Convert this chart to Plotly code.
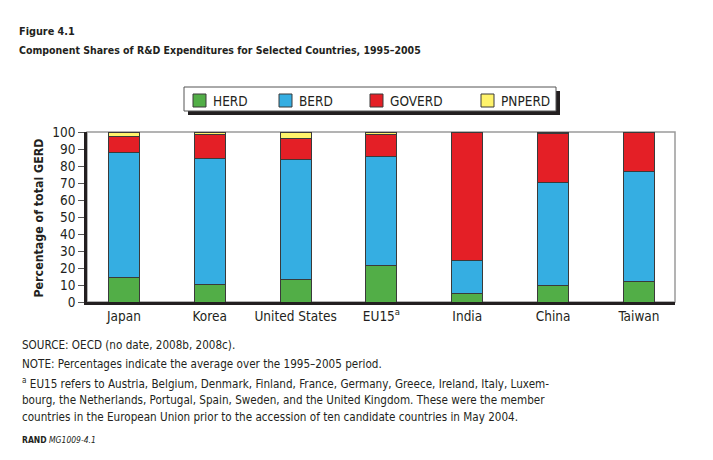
import plotly.graph_objects as go

countries = ["Japan", "Korea", "United States", "EU15<sup>a</sup>", "India", "China", "Taiwan"]
series_names = ["HERD", "BERD", "GOVERD", "PNPERD"]
herd = [14.5, 10.4, 13.1, 21.5, 5.1, 9.8, 12.1]
berd = [73.2, 74.1, 71.0, 63.8, 19.2, 60.5, 64.4]
goverd = [9.6, 14.1, 12.2, 13.5, 75.7, 28.9, 23.5]
pnperd = [2.7, 1.4, 3.7, 1.2, 0.0, 0.8, 0.0]
y_ticks = [0, 10, 20, 30, 40, 50, 60, 70, 80, 90, 100]

colors = ["#52ae47", "#35aee2", "#e41f26", "#fff36b"]
values = [herd, berd, goverd, pnperd]

TXT = "#231f20"
FONT = "DejaVu Sans Condensed, DejaVu Sans, sans-serif"

# page body margin offset (browser default)
O = 8
FW, FH = 713 - 2 * O, 460 - 2 * O
# plot area in reference (window) pixels
L, R, T, B = 87, 675, 132, 302
W, H = R - L, B - T


def px(x):
    return (x - L) / W


def py(y):
    return (B - y) / H


fig = go.Figure()
for name, vals, col in zip(series_names, values, colors):
    fig.add_trace(go.Bar(
        x=countries, y=vals, name=name,
        marker=dict(color=col, line=dict(color="#3a3a3a", width=1)),
        width=0.36, showlegend=False,
    ))

shapes = []
# plot frame (gray)
shapes.append(dict(type="rect", xref="paper", yref="paper", x0=0, x1=1, y0=0, y1=1,
                   line=dict(color="#9a9a9a", width=1.5), fillcolor="rgba(0,0,0,0)", layer="below"))
# legend shadow + box
lx0, lx1, ly0, ly1 = 184, 556, 87, 111
shapes.append(dict(type="rect", xref="paper", yref="paper", x0=px(lx0 + 4), x1=px(lx1 + 4),
                   y0=py(ly1 + 4), y1=py(ly0 + 4), line=dict(width=0), fillcolor="#231f20"))
shapes.append(dict(type="rect", xref="paper", yref="paper", x0=px(lx0), x1=px(lx1),
                   y0=py(ly1), y1=py(ly0), line=dict(color="#555555", width=1), fillcolor="white"))

annotations = []
sw_x = [193, 279, 370, 481]
for name, col, sx in zip(series_names, colors, sw_x):
    shapes.append(dict(type="rect", xref="paper", yref="paper", x0=px(sx), x1=px(sx + 13),
                       y0=py(107), y1=py(94), line=dict(color="#3a3a3a", width=1), fillcolor=col))
    annotations.append(dict(xref="paper", yref="paper", x=px(sx + 18), y=py(100.5), text=name,
                            showarrow=False, xanchor="left", yanchor="middle",
                            font=dict(size=13.5, color=TXT, family=FONT)))

# titles
annotations.append(dict(xref="paper", yref="paper", x=px(17), y=py(31.5), text="<b>Figure 4.1</b>",
                        showarrow=False, xanchor="left", yanchor="middle",
                        font=dict(size=10.8, color=TXT, family=FONT)))
annotations.append(dict(xref="paper", yref="paper", x=px(17), y=py(50),
                        text="<b>Component Shares of R&D Expenditures for Selected Countries, 1995–2005</b>",
                        showarrow=False, xanchor="left", yanchor="middle",
                        font=dict(size=10.5, color=TXT, family=FONT)))
# y title
annotations.append(dict(xref="paper", yref="paper", x=px(38), y=py(218.5), text="<b>Percentage of total GERD</b>",
                        showarrow=False, xanchor="center", yanchor="middle", textangle=-90,
                        font=dict(size=12.3, color=TXT, family=FONT)))
# notes
notes = [
    (345, "SOURCE: OECD (no date, 2008b, 2008c)."),
    (364, "NOTE: Percentages indicate the average over the 1995–2005 period."),
    (382.5, "<sup>a</sup> EU15 refers to Austria, Belgium, Denmark, Finland, France, Germany, Greece, Ireland, Italy, Luxem-"),
    (400, "bourg, the Netherlands, Portugal, Spain, Sweden, and the United Kingdom. These were the member"),
    (417, "countries in the European Union prior to the accession of ten candidate countries in May 2004."),
]
for yy, t in notes:
    annotations.append(dict(xref="paper", yref="paper", x=px(20), y=py(yy), text=t,
                            showarrow=False, xanchor="left", yanchor="middle",
                            font=dict(size=11.6, color=TXT, family=FONT)))
annotations.append(dict(xref="paper", yref="paper", x=px(20), y=py(439.5),
                        text="<b>RAND</b> <i>MG1009-4.1</i>",
                        showarrow=False, xanchor="left", yanchor="middle",
                        font=dict(size=8.5, color=TXT, family=FONT)))

fig.update_layout(
    width=FW, height=FH,
    margin=dict(l=L - O, r=FW - (R - O), t=T - O, b=FH - (B - O), pad=0),
    barmode="stack",
    paper_bgcolor="white", plot_bgcolor="white",
    showlegend=False,
    shapes=shapes, annotations=annotations,
    font=dict(family=FONT, color=TXT, size=13),
    xaxis=dict(range=[-0.43, 6.42], showline=True, linecolor="#231f20", linewidth=2.5,
               ticks="", showgrid=False, tickfont=dict(size=13.5, color=TXT, family=FONT),
               fixedrange=True),
    yaxis=dict(range=[0, 100], tickvals=y_ticks, showline=True, linecolor="#231f20", linewidth=2.5,
               ticks="outside", ticklen=6, tickcolor="#555555", tickwidth=1,
               showgrid=False, zeroline=False, tickfont=dict(size=13.5, color=TXT, family=FONT),
               fixedrange=True),
)

fig.write_html("out.html")
